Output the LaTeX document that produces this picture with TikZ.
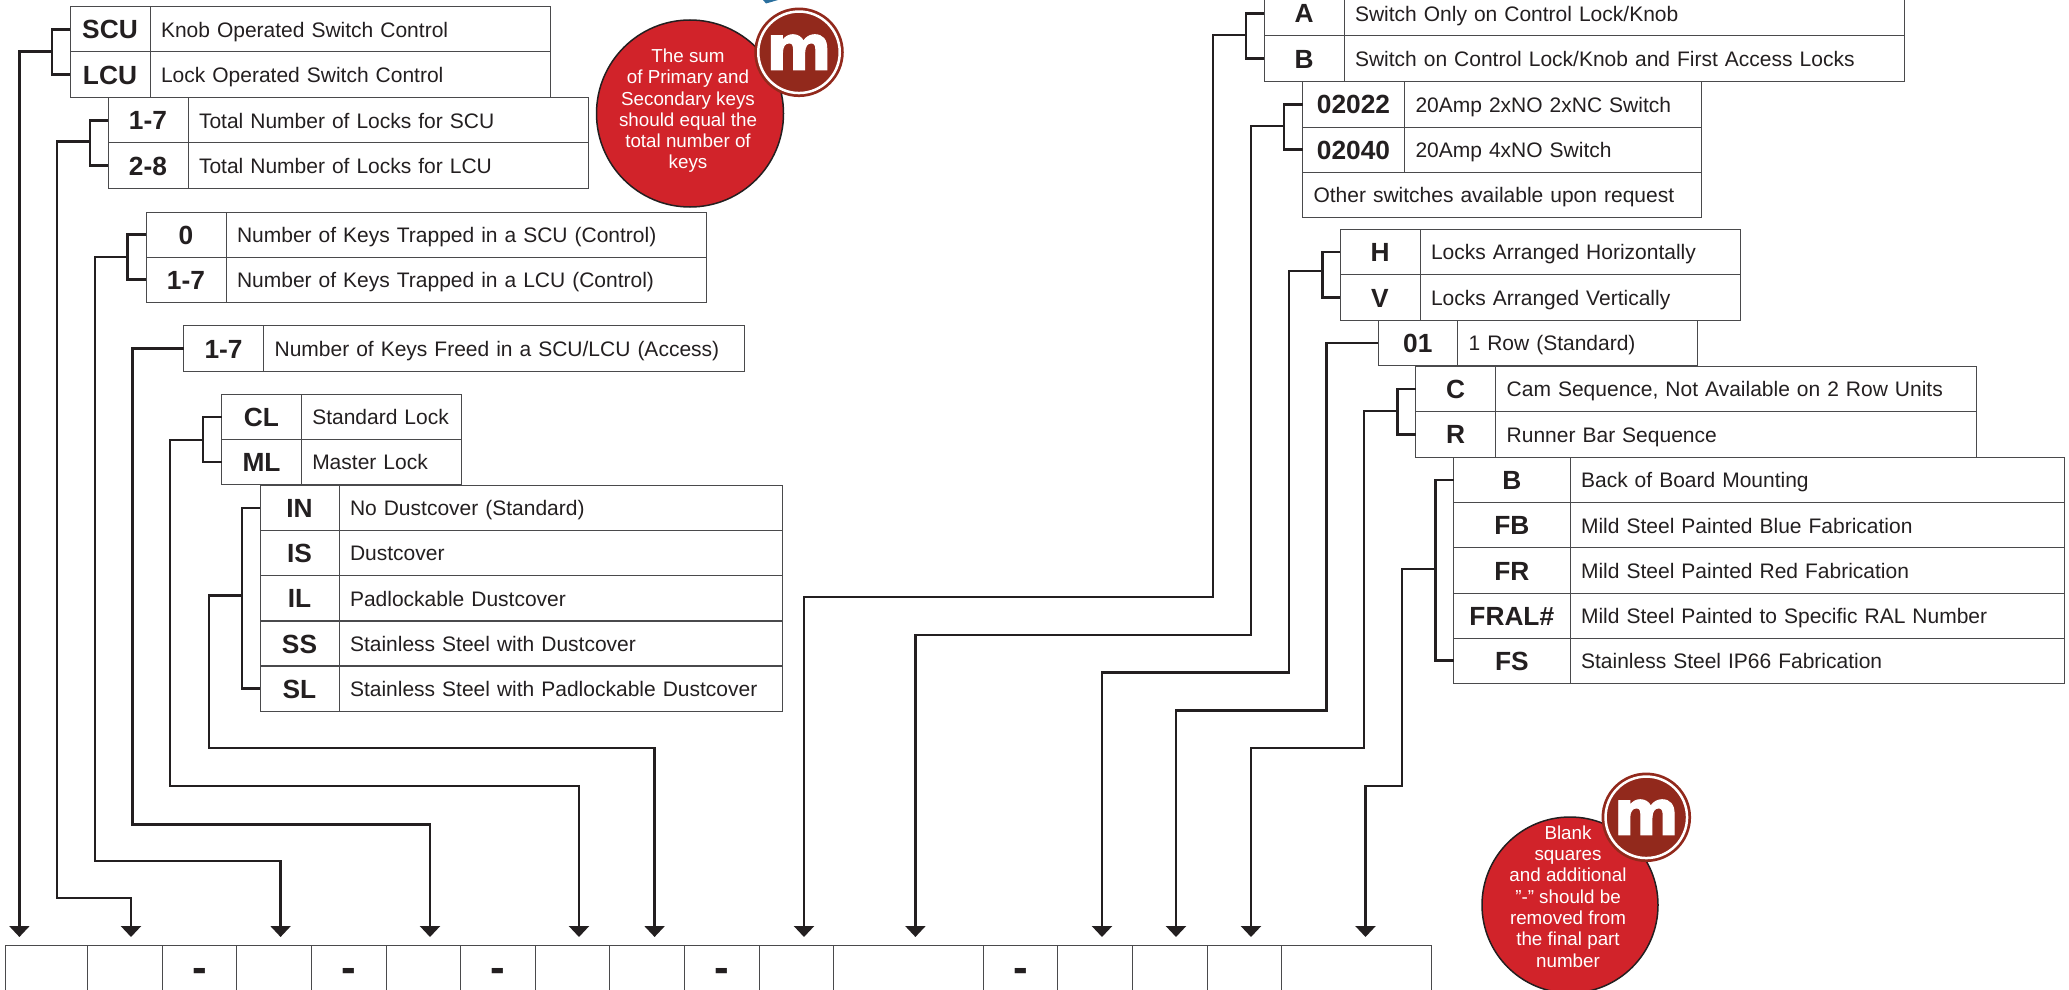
\documentclass[tikz,border=0pt]{standalone}
\usepackage{fontspec}
\setmainfont{Liberation Sans}
\newfontfamily\badgefont[BoldFeatures={FakeBold=1.5}]{DejaVu Sans}
\usetikzlibrary{arrows.meta, positioning}

\definecolor{inkblack}{HTML}{231F20}
\definecolor{gridgrey}{HTML}{4A4A4C}
\definecolor{notered}{HTML}{D1232A}
\definecolor{badgered}{HTML}{92291C}
\definecolor{cornerblue}{HTML}{2A6F9E}

\tikzset{
    rowcell/.style={draw=gridgrey, line width=1pt, rectangle, inner sep=0pt, outer sep=0pt, minimum height=45.2pt, text=inkblack},
    codecell/.style={rowcell, minimum width=#1, font=\bfseries\fontsize{26.3}{28}\selectfont, text height=19pt, text depth=0pt, align=center},
    desccell/.style={rowcell, inner xsep=11pt, text width=#1-22, font=\fontsize{21}{24}\selectfont, text height=15.4pt, text depth=0pt, align=left},
    slot/.style={draw=gridgrey, line width=1pt, rectangle, anchor=north west, inner sep=0pt, outer sep=0pt, minimum height=60pt, text=inkblack, font=\bfseries\fontsize{44}{44}\selectfont},
    bus/.style={draw=inkblack, line width=2.4pt},
    drop/.style={bus, -{Triangle[length=11pt, width=20pt]}},
    note/.style={circle, draw=inkblack, line width=1.5pt, fill=notered, inner sep=0pt, minimum size=#1},
    notetext/.style={text=white, align=center, inner sep=0pt, font=\fontsize{18.8}{21.3}\selectfont},
    badge/.style={circle, draw=white, line width=2.5pt, fill=badgered, preaction={draw=badgered, line width=8pt}, inner sep=0pt, minimum size=81.5pt, text=white, font=\badgefont\bfseries\fontsize{63}{63}\selectfont}
}

\begin{document}
\begin{tikzpicture}[x=1pt, y=-1pt]
    \useasboundingbox (0,0) rectangle (2069,990);
    \clip (0,0) rectangle (2069,990);

    \node[codecell=80] (scu) at (110, 29.4) {SCU};
    \node[desccell=400, right=0pt of scu] (scutext) {Knob Operated Switch Control};
    \node[codecell=80] (lcu) at (110, 74.6) {LCU};
    \node[desccell=400, right=0pt of lcu] (lcutext) {Lock Operated Switch Control};

    \node[codecell=80] (locksa) at (148, 120.3) {1-7};
    \node[desccell=400, right=0pt of locksa] (locksatext) {Total Number of Locks for SCU};
    \node[codecell=80] (locksb) at (148, 165.5) {2-8};
    \node[desccell=400, right=0pt of locksb] (locksbtext) {Total Number of Locks for LCU};

    \node[codecell=80] (trapa) at (186, 234.6) {0};
    \node[desccell=480, right=0pt of trapa] (trapatext) {Number of Keys Trapped in a SCU (Control)};
    \node[codecell=80] (trapb) at (186, 279.6) {1-7};
    \node[desccell=480, right=0pt of trapb] (trapbtext) {Number of Keys Trapped in a LCU (Control)};

    \node[codecell=80] (freed) at (223.6, 348.5) {1-7};
    \node[desccell=480.5, right=0pt of freed] (freedtext) {Number of Keys Freed in a SCU/LCU (Access)};

    \node[codecell=79.5] (cl) at (261.5, 417.2) {CL};
    \node[desccell=160, right=0pt of cl] (cltext) {Standard Lock};
    \node[codecell=79.5] (ml) at (261.5, 462.2) {ML};
    \node[desccell=160, right=0pt of ml] (mltext) {Master Lock};

    \node[codecell=79] (in) at (299.5, 508) {IN};
    \node[desccell=443, right=0pt of in] (intext) {No Dustcover (Standard)};
    \node[codecell=79] (is) at (299.5, 553) {IS};
    \node[desccell=443, right=0pt of is] (istext) {Dustcover};
    \node[codecell=79] (il) at (299.5, 598.4) {IL};
    \node[desccell=443, right=0pt of il] (iltext) {Padlockable Dustcover};
    \node[codecell=79] (ss) at (299.5, 643.5) {SS};
    \node[desccell=443, right=0pt of ss] (sstext) {Stainless Steel with Dustcover};
    \node[codecell=79] (sl) at (299.5, 688.5) {SL};
    \node[desccell=443, right=0pt of sl] (sltext) {Stainless Steel with Padlockable Dustcover};

    \node[codecell=80] (swa) at (1304, 13.4) {A};
    \node[desccell=560.6, right=0pt of swa] (swatext) {Switch Only on Control Lock/Knob};
    \node[codecell=80] (swb) at (1304, 58.6) {B};
    \node[desccell=560.6, right=0pt of swb] (swbtext) {Switch on Control Lock/Knob and First Access Locks};

    \node[codecell=102] (amptwo) at (1353.5, 104.4) {02022};
    \node[desccell=297.4, right=0pt of amptwo] (amptwotext) {20Amp 2xNO 2xNC Switch};
    \node[codecell=102] (ampfour) at (1353.5, 149.6) {02040};
    \node[desccell=297.4, right=0pt of ampfour] (ampfourtext) {20Amp 4xNO Switch};
    \node[desccell=399.4, anchor=west] (ampother) at (1302.5, 194.6) {Other switches available upon request};

    \node[codecell=80] (horiz) at (1380, 252) {H};
    \node[desccell=320, right=0pt of horiz] (horiztext) {Locks Arranged Horizontally};
    \node[codecell=80] (vert) at (1380, 297.5) {V};
    \node[desccell=320, right=0pt of vert] (verttext) {Locks Arranged Vertically};

    \node[codecell=79.6] (onerow) at (1417.8, 342.8) {01};
    \node[desccell=239.8, right=0pt of onerow] (onerowtext) {1 Row (Standard)};

    \node[codecell=80] (cam) at (1455.7, 389.2) {C};
    \node[desccell=480.3, right=0pt of cam] (camtext) {Cam Sequence, Not Available on 2 Row Units};
    \node[codecell=80] (runner) at (1455.7, 434.4) {R};
    \node[desccell=480.3, right=0pt of runner] (runnertext) {Runner Bar Sequence};

    \node[codecell=116.5] (back) at (1511.8, 480) {B};
    \node[desccell=494.6, right=0pt of back] (backtext) {Back of Board Mounting};
    \node[codecell=116.5] (fb) at (1511.8, 525.3) {FB};
    \node[desccell=494.6, right=0pt of fb] (fbtext) {Mild Steel Painted Blue Fabrication};
    \node[codecell=116.5] (fr) at (1511.8, 570.5) {FR};
    \node[desccell=494.6, right=0pt of fr] (frtext) {Mild Steel Painted Red Fabrication};
    \node[codecell=116.5] (fral) at (1511.8, 615.7) {FRAL\#};
    \node[desccell=494.6, right=0pt of fral] (fraltext) {Mild Steel Painted to Specific RAL Number};
    \node[codecell=116.5] (fs) at (1511.8, 660.6) {FS};
    \node[desccell=494.6, right=0pt of fs] (fstext) {Stainless Steel IP66 Fabrication};

    % part number squares
    \foreach \name/\xl/\xr/\mark in {s1/5/87/, s2/87/162/, s3/162/236.7/-, s4/236.7/311/, s5/311/386/-,
        s6/386/460.7/, s7/460.7/535.7/-, s8/535.7/609.7/, s9/609.7/684.7/, s10/684.7/759/-, s11/759/833/,
        s12/833/983.7/, s13/983.7/1057.7/-, s14/1057.7/1132/, s15/1132/1207.6/, s16/1207.6/1281.6/, s17/1281.6/1431.5/}
        \node[slot, minimum width=\xr-\xl] (\name) at (\xl, 945.6) {\mark};

    % branch points and arrow ends
    \coordinate (j1) at (52, 51.5);
    \coordinate (j2) at (90, 141.5);
    \coordinate (j3) at (127.5, 257);
    \coordinate (j5) at (203, 439.7);
    \coordinate (j6) at (242, 595.3);
    \coordinate (j7) at (1246, 35);
    \coordinate (j8) at (1284, 125.7);
    \coordinate (j9) at (1322.4, 271);
    \coordinate (j11) at (1397.6, 411);
    \coordinate (j12) at (1435.4, 569);

    \coordinate (b2) at (57, 898.2);
    \coordinate (b3) at (95, 861.2);
    \coordinate (b4) at (132.6, 824.5);
    \coordinate (b5) at (170, 786);
    \coordinate (b6) at (208.8, 748.2);
    \coordinate (b7) at (1213, 597);
    \coordinate (b8) at (1251, 635);
    \coordinate (b9) at (1288.8, 672.6);
    \coordinate (b10) at (1326.5, 710.5);
    \coordinate (b11) at (1364, 748.2);
    \coordinate (b12) at (1402, 786);

    \foreach \n/\x in {1/19.4, 2/131, 3/280.6, 4/430, 5/579, 6/654.6, 7/804, 8/915.4, 9/1102, 10/1176, 11/1251, 12/1365.5}
        \coordinate (t\n) at (\x, 937);

    \draw[bus] (scu.west) -| (j1) |- (lcu.west);
    \draw[bus] (locksa.west) -| (j2) |- (locksb.west);
    \draw[bus] (trapa.west) -| (j3) |- (trapb.west);
    \draw[bus] (cl.west) -| (j5) |- (ml.west);
    \draw[bus] (in.west) -| (j6) |- (sl.west);
    \draw[bus] (swa.west) -| (j7) |- (swb.west);
    \draw[bus] (amptwo.west) -| (j8) |- (ampfour.west);
    \draw[bus] (horiz.west) -| (j9) |- (vert.west);
    \draw[bus] (cam.west) -| (j11) |- (runner.west);
    \draw[bus] (back.west) -| (j12) |- (fs.west);

    \draw[drop] (j1) -| (t1);
    \draw[drop] (j2) -| (b2) -| (t2);
    \draw[drop] (j3) -| (b3) -| (t3);
    \draw[drop] (freed.west) -| (b4) -| (t4);
    \draw[drop] (j5) -| (b5) -| (t5);
    \draw[drop] (j6) -| (b6) -| (t6);
    \draw[drop] (j7) -| (b7) -| (t7);
    \draw[drop] (j8) -| (b8) -| (t8);
    \draw[drop] (j9) -| (b9) -| (t9);
    \draw[drop] (onerow.west) -| (b10) -| (t10);
    \draw[drop] (j11) -| (b11) -| (t11);
    \draw[drop] (j12) -| (b12) -| (t12);

    % notes
    \fill[cornerblue] (763, 0) -- (778, 0) -- (766, 3.5) -- cycle;

    \node[note=187pt] (sumnote) at (690, 113.5) {};
    \node[notetext] (sumtext) at (688, 110.8) {The sum\\of Primary and\\Secondary keys\\should equal the\\total number of\\keys};
    \node[badge] (sumbadge) at (799, 52.3) {m};

    \node[note=176pt] (blanknote) at (1570, 905) {};
    \node[notetext] (blanktext) at (1568, 896.5) {Blank\\squares\\and additional\\"-" should be\\removed from\\the final part\\number};
    \node[badge] (blankbadge) at (1646.3, 817.3) {m};
\end{tikzpicture}
\end{document}
